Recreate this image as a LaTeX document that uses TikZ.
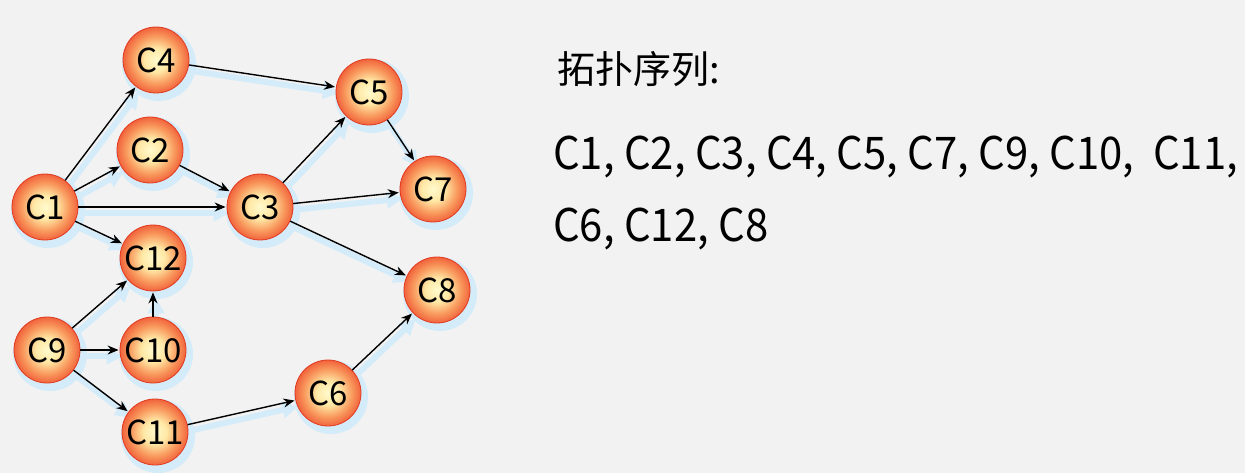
\documentclass[tikz,border=0pt]{standalone}
\usepackage{fontspec}
\setmainfont{Noto Sans CJK SC}
\usetikzlibrary{arrows.meta,backgrounds}
\definecolor{bg}{RGB}{242,242,242}
\definecolor{halo}{RGB}{212,236,250}
\definecolor{ballA}{RGB}{255,250,205}
\definecolor{ballB}{RGB}{255,232,165}
\definecolor{ballC}{RGB}{249,155,95}
\definecolor{ballD}{RGB}{240,92,55}
\definecolor{ballE}{RGB}{226,58,32}
\pgfdeclareradialshading{cball}{\pgfpoint{0bp}{0bp}}{color(0bp)=(ballA); color(9bp)=(ballB); color(18bp)=(ballC); color(26bp)=(ballD); color(35bp)=(ballE); color(50bp)=(ballE)}
\tikzset{
  ball/.style={circle, minimum size=66pt, inner sep=0pt, shading=cball, draw=ballE, line width=0.8pt, font=\fontsize{33}{33}\selectfont},
  edge/.style={draw=black, line width=1.4pt, -{Stealth[length=11pt,width=9pt]}, shorten >=1pt},
  ghost/.style={draw=halo, line width=6pt, -{Triangle[length=16pt,width=16pt]}, transform canvas={shift={(3pt,-6pt)}}},
  halo/.style={fill=halo},
  txt/.style={anchor=base west, inner sep=0pt}
}
\begin{document}
\begin{tikzpicture}[x=1pt,y=-1pt]
\useasboundingbox (0,0) rectangle (1245,473);
\node[ball] (c4) at (156,60) {C4};
\node[ball] (c2) at (150,150) {C2};
\node[ball] (c1) at (45,207) {C1};
\node[ball] (c3) at (260,207) {C3};
\node[ball] (c5) at (369,92) {C5};
\node[ball] (c7) at (433,189) {C7};
\node[ball] (c12) at (153,258) {C12};
\node[ball] (c8) at (437,290) {C8};
\node[ball] (c9) at (47,350) {C9};
\node[ball] (c10) at (153,350) {C10};
\node[ball] (c11) at (155,432) {C11};
\node[ball] (c6) at (328,393) {C6};
\begin{scope}[on background layer]
  \fill[bg] (0,0) rectangle (1245,473);
  \foreach \n in {c1,c2,c3,c4,c5,c6,c7,c8,c9,c10,c11,c12}
    \fill[halo] ([shift={(3pt,-4pt)}]\n.center) circle (37pt);
  \foreach \a/\b in {c1/c4,c1/c2,c1/c3,c1/c12,c2/c3,c4/c5,c3/c5,c3/c7,c3/c8,c5/c7,c9/c12,c10/c12,c9/c10,c9/c11,c11/c6,c6/c8}
    \draw[ghost] (\a) -- (\b);
\end{scope}
\foreach \a/\b in {c1/c4,c1/c2,c1/c3,c1/c12,c2/c3,c4/c5,c3/c5,c3/c7,c3/c8,c5/c7,c9/c12,c10/c12,c9/c10,c9/c11,c11/c6,c6/c8}
  \draw[edge] (\a) -- (\b);
\node[txt, font=\fontsize{38}{38}\selectfont] (title) at (557,84) {拓扑序列:};
\node[txt, font=\fontsize{45}{45}\selectfont] (seq1) at (553,170) {\scalebox{0.93}[1]{C1, C2, C3, C4, C5, C7, C9, C10, \ C11,}};
\node[txt, font=\fontsize{45}{45}\selectfont] (seq2) at (553,242) {\scalebox{0.93}[1]{C6, C12, C8}};
\end{tikzpicture}
\end{document}
